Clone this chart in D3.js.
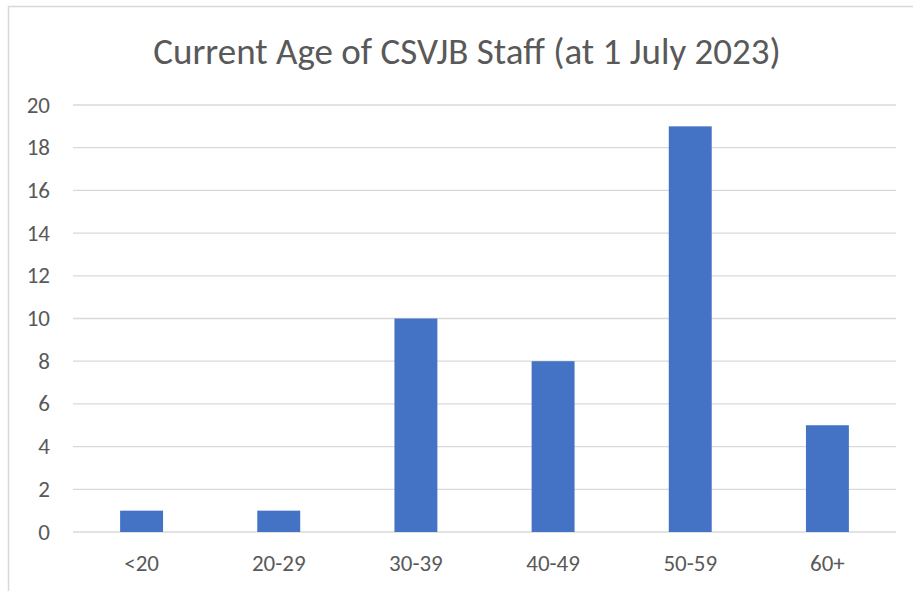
<!DOCTYPE html>
<html>
<head>
<meta charset="utf-8">
<script src="https://cdn.jsdelivr.net/npm/d3@7"></script>
<style>
  body { margin: 0; background: #fff; }
  text { font-family: Carlito, Calibri, "Open Sans", sans-serif; fill: #595959; }
</style>
</head>
<body>
<div id="chart"></div>
<script>
// Chart data
const categories = ["<20", "20-29", "30-39", "40-49", "50-59", "60+"];
const staffCounts = [1, 1, 10, 8, 19, 5];
const yTicks = [0, 2, 4, 6, 8, 10, 12, 14, 16, 18, 20];
const title = "Current Age of CSVJB Staff (at 1 July 2023)";

const W = 913, H = 591;
const margin = { top: 105, right: 17, bottom: 59, left: 73 };

const svg = d3.select("#chart")
              .append("svg")
              .attr("width", W)
              .attr("height", H);

// chart border (cropped at right and bottom)
svg.append("rect")
   .attr("x", 8.5).attr("y", 6.5)
   .attr("width", W + 20).attr("height", H + 20)
   .attr("fill", "none")
   .attr("stroke", "#d9d9d9")
   .attr("stroke-width", 1.5);

const x = d3.scaleBand()
            .domain(categories)
            .range([margin.left, W - margin.right])
            .paddingInner(0.687)
            .paddingOuter(0.3435);

const y = d3.scaleLinear()
            .domain([0, 20])
            .range([H - margin.bottom, margin.top]);

// gridlines
svg.append("g")
   .selectAll("line")
   .data(yTicks)
   .enter()
   .append("line")
   .attr("x1", margin.left)
   .attr("x2", W - margin.right)
   .attr("y1", d => y(d))
   .attr("y2", d => y(d))
   .attr("stroke", "#d9d9d9")
   .attr("stroke-width", 1.3);

// y labels
svg.append("g")
   .selectAll("text")
   .data(yTicks)
   .enter()
   .append("text")
   .attr("x", 50)
   .attr("y", d => y(d))
   .attr("dy", "0.33em")
   .attr("text-anchor", "end")
   .style("font-size", "23px")
   .text(d => d);

// bars
svg.append("g")
   .selectAll("rect")
   .data(staffCounts)
   .enter()
   .append("rect")
   .attr("x", (d, i) => x(categories[i]))
   .attr("width", x.bandwidth())
   .attr("y", d => y(d))
   .attr("height", d => y(0) - y(d))
   .attr("fill", "#4472c4");

// x labels
svg.append("g")
   .selectAll("text")
   .data(categories)
   .enter()
   .append("text")
   .attr("x", d => x(d) + x.bandwidth() / 2)
   .attr("y", 571)
   .attr("text-anchor", "middle")
   .style("font-size", "23px")
   .text(d => d);

// title
svg.append("text")
   .attr("x", 467)
   .attr("y", 64)
   .attr("text-anchor", "middle")
   .style("font-size", "37px")
   .text(title);
</script>
</body>
</html>
